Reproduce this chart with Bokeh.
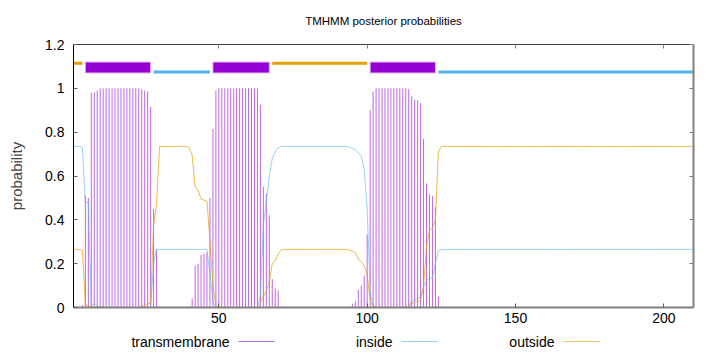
from bokeh.plotting import figure
from bokeh.models import Range1d, FixedTicker, LinearAxis, CustomJSTickFormatter
from bokeh.layouts import column
from bokeh.core.properties import value
from bokeh.embed import file_html
from bokeh.resources import INLINE

# ---------------- data ----------------
residue = list(range(1, 211))

transmembrane = [
    0, 0, 0, 0.01, 0.51, 0.50, 0.98, 0.982, 0.99, 1.0,
    1.0, 1.0, 1.0, 1.0, 1.0, 1.0, 1.0, 1.0, 1.0, 1.0,
    1.0, 1.0, 1.0, 0.995, 0.99, 0.985, 0.915, 0.45, 0.265, 0.005,
    0, 0, 0, 0, 0, 0, 0, 0, 0, 0.005,
    0.04, 0.19, 0.20, 0.24, 0.245, 0.25, 0.50, 0.815, 0.99, 1.0,
    1.0, 1.0, 1.0, 1.0, 1.0, 1.0, 1.0, 1.0, 1.0, 1.0,
    1.0, 1.0, 1.0, 0.925, 0.55, 0.52, 0.42, 0.13, 0.087, 0.078,
    0.005, 0, 0, 0, 0, 0, 0, 0, 0, 0,
    0, 0, 0, 0, 0, 0, 0, 0, 0, 0,
    0, 0, 0, 0.005, 0.018, 0.028, 0.08, 0.10, 0.145, 0.333,
    0.90, 0.986, 1.0, 1.0, 1.0, 1.0, 1.0, 1.0, 1.0, 1.0,
    1.0, 1.0, 1.0, 0.997, 0.963, 0.948, 0.945, 0.933, 0.769, 0.566,
    0.517, 0.508, 0.459, 0.049, 0, 0, 0, 0, 0, 0,
    0, 0, 0, 0, 0, 0, 0, 0, 0, 0,
    0, 0, 0, 0, 0, 0, 0, 0, 0, 0,
    0, 0, 0, 0, 0, 0, 0, 0, 0, 0,
    0, 0, 0, 0, 0, 0, 0, 0, 0, 0,
    0, 0, 0, 0, 0, 0, 0, 0, 0, 0,
    0, 0, 0, 0, 0, 0, 0, 0, 0, 0,
    0, 0, 0, 0, 0, 0, 0, 0, 0, 0,
    0, 0, 0, 0, 0, 0, 0, 0, 0, 0,
]

inside = [
    0.735, 0.735, 0.735, 0.73, 0.48, 0.48, 0.012, 0.015, 0.008, 0,
    0, 0, 0, 0, 0, 0, 0, 0, 0, 0,
    0, 0, 0, 0, 0, 0, 0, 0.2, 0.265, 0.265,
    0.265, 0.265, 0.265, 0.265, 0.265, 0.265, 0.265, 0.265, 0.265, 0.265,
    0.265, 0.265, 0.265, 0.265, 0.265, 0.265, 0.15, 0.03, 0, 0,
    0, 0, 0, 0, 0, 0, 0, 0, 0, 0,
    0, 0, 0, 0.05, 0.38, 0.48, 0.60, 0.68, 0.71, 0.728,
    0.735, 0.735, 0.735, 0.735, 0.735, 0.735, 0.735, 0.735, 0.735, 0.735,
    0.735, 0.735, 0.735, 0.735, 0.735, 0.735, 0.735, 0.735, 0.735, 0.735,
    0.735, 0.735, 0.735, 0.733, 0.725, 0.72, 0.705, 0.69, 0.63, 0.45,
    0.07, 0.01, 0, 0, 0, 0, 0, 0, 0, 0,
    0, 0, 0, 0.002, 0.03, 0.035, 0.04, 0.05, 0.09, 0.125,
    0.13, 0.137, 0.20, 0.26, 0.265, 0.265, 0.265, 0.265, 0.265, 0.265,
    0.265, 0.265, 0.265, 0.265, 0.265, 0.265, 0.265, 0.265, 0.265, 0.265,
    0.265, 0.265, 0.265, 0.265, 0.265, 0.265, 0.265, 0.265, 0.265, 0.265,
    0.265, 0.265, 0.265, 0.265, 0.265, 0.265, 0.265, 0.265, 0.265, 0.265,
    0.265, 0.265, 0.265, 0.265, 0.265, 0.265, 0.265, 0.265, 0.265, 0.265,
    0.265, 0.265, 0.265, 0.265, 0.265, 0.265, 0.265, 0.265, 0.265, 0.265,
    0.265, 0.265, 0.265, 0.265, 0.265, 0.265, 0.265, 0.265, 0.265, 0.265,
    0.265, 0.265, 0.265, 0.265, 0.265, 0.265, 0.265, 0.265, 0.265, 0.265,
    0.265, 0.265, 0.265, 0.265, 0.265, 0.265, 0.265, 0.265, 0.265, 0.265,
]

outside = [
    0.265, 0.265, 0.265, 0.26, 0.01, 0.01, 0.005, 0.003, 0, 0,
    0, 0, 0, 0, 0, 0, 0, 0, 0, 0,
    0, 0, 0, 0.005, 0.01, 0.015, 0.02, 0.38, 0.47, 0.735,
    0.735, 0.735, 0.735, 0.735, 0.735, 0.735, 0.735, 0.735, 0.735, 0.73,
    0.695, 0.55, 0.535, 0.495, 0.49, 0.485, 0.30, 0.10, 0.01, 0,
    0, 0, 0, 0, 0, 0, 0, 0, 0, 0,
    0, 0, 0, 0.02, 0.05, 0.075, 0.12, 0.20, 0.212, 0.245,
    0.263, 0.265, 0.265, 0.265, 0.265, 0.265, 0.265, 0.265, 0.265, 0.265,
    0.265, 0.265, 0.265, 0.265, 0.265, 0.265, 0.265, 0.265, 0.265, 0.265,
    0.265, 0.265, 0.265, 0.262, 0.257, 0.252, 0.22, 0.21, 0.19, 0.15,
    0.03, 0.004, 0, 0, 0, 0, 0, 0, 0, 0,
    0, 0, 0, 0.001, 0.02, 0.022, 0.03, 0.03, 0.10, 0.28,
    0.35, 0.365, 0.40, 0.71, 0.735, 0.735, 0.735, 0.735, 0.735, 0.735,
    0.735, 0.735, 0.735, 0.735, 0.735, 0.735, 0.735, 0.735, 0.735, 0.735,
    0.735, 0.735, 0.735, 0.735, 0.735, 0.735, 0.735, 0.735, 0.735, 0.735,
    0.735, 0.735, 0.735, 0.735, 0.735, 0.735, 0.735, 0.735, 0.735, 0.735,
    0.735, 0.735, 0.735, 0.735, 0.735, 0.735, 0.735, 0.735, 0.735, 0.735,
    0.735, 0.735, 0.735, 0.735, 0.735, 0.735, 0.735, 0.735, 0.735, 0.735,
    0.735, 0.735, 0.735, 0.735, 0.735, 0.735, 0.735, 0.735, 0.735, 0.735,
    0.735, 0.735, 0.735, 0.735, 0.735, 0.735, 0.735, 0.735, 0.735, 0.735,
    0.735, 0.735, 0.735, 0.735, 0.735, 0.735, 0.735, 0.735, 0.735, 0.735,
]

# predicted topology segments (residue start / end)
tm_start = [5, 48, 101]
tm_end = [27, 67, 123]
in_start = [28, 124]
in_end = [47, 210]
out_start = [1, 68]
out_end = [4, 100]

x_ticks = [50, 100, 150, 200]
y_ticks = [0, 0.2, 0.4, 0.6, 0.8, 1, 1.2]
y_tick_labels = ["0", "0.2", "0.4", "0.6", "0.8", "1", "1.2"]
legend_labels = ["transmembrane", "inside", "outside"]
title_text = "TMHMM posterior probabilities"

# ---------------- style ----------------
FONT = "Liberation Sans"
TM_COL = "#9400d3"
IN_COL = "#56b4e9"
OUT_COL = "#e69f00"
TOPO_OUT_Y = 1.115
TOPO_IN_Y = 1.075
TOPO_TM_BOTTOM = 1.07
TOPO_TM_TOP = 1.12


def strip(height):
    """A bare figure whose frame is aligned with the main frame (73..693 px), data units = pixels."""
    f = figure(width=720, height=height, x_range=Range1d(73, 693), y_range=Range1d(0, height),
               x_axis_type=None, y_axis_type=None, output_backend="svg", toolbar_location=None,
               min_border=0, min_border_left=0, min_border_right=0, min_border_top=0, min_border_bottom=0)
    f.outline_line_color = None
    f.xgrid.visible = False
    f.ygrid.visible = False
    return f


# ---------------- title strip ----------------
ttl = strip(30)
ttl.text(x=[383], y=[10], text=[title_text], text_align="center", text_baseline="middle",
         text_font=value(FONT), text_font_size="11.5px", text_color="#000000")

# ---------------- main plot ----------------
p = figure(width=720, height=300, x_range=Range1d(1, 210), y_range=Range1d(0, 1.2),
           output_backend="svg", toolbar_location=None,
           min_border_left=73, min_border_right=27, min_border_top=14, min_border_bottom=23)

p.xgrid.visible = False
p.ygrid.visible = False
p.outline_line_color = None

p.xaxis.ticker = FixedTicker(ticks=x_ticks)
p.yaxis.ticker = FixedTicker(ticks=y_ticks)
p.yaxis.major_label_overrides = dict(zip(y_ticks, y_tick_labels))

for ax in (p.xaxis[0], p.yaxis[0]):
    ax.major_tick_in = 4
    ax.major_tick_out = 0
    ax.minor_tick_in = 0
    ax.minor_tick_out = 0
    ax.major_label_text_font = FONT
    ax.major_label_text_font_size = "14px"
    ax.major_label_text_color = "#000000"
    ax.major_tick_line_color = "#606060"

p.yaxis.axis_line_color = "#000000"
p.yaxis.major_label_standoff = 9
p.yaxis.axis_label = "probability"
p.yaxis.axis_label_text_font = FONT
p.yaxis.axis_label_text_font_size = "15px"
p.yaxis.axis_label_text_font_style = "normal"
p.yaxis.axis_label_standoff = 17

p.xaxis.axis_line_color = "#808080"
p.xaxis.axis_line_width = 2
p.xaxis.major_label_standoff = 5

blank = CustomJSTickFormatter(code="return ''")
right_ax = LinearAxis(ticker=FixedTicker(ticks=y_ticks), formatter=blank,
                      major_tick_in=4, major_tick_out=0, minor_tick_in=0, minor_tick_out=0,
                      major_label_standoff=0, major_label_text_font_size="0px",
                      axis_line_color="#808080", axis_line_width=2, major_tick_line_color="#808080")
top_ax = LinearAxis(ticker=FixedTicker(ticks=x_ticks), formatter=blank,
                    major_tick_in=4, major_tick_out=0, minor_tick_in=0, minor_tick_out=0,
                    major_label_standoff=0, major_label_text_font_size="0px",
                    axis_line_color="#404040", axis_line_width=1, major_tick_line_color="#808080")
p.add_layout(right_ax, "right")
p.add_layout(top_ax, "above")

# impulses for transmembrane probability
p.segment(x0=residue, y0=[0] * len(residue), x1=residue, y1=transmembrane,
          line_color=TM_COL, line_alpha=0.6, line_width=1)
# inside / outside lines
p.line(residue, inside, line_color=IN_COL, line_alpha=0.6, line_width=1)
p.line(residue, outside, line_color=OUT_COL, line_alpha=0.7, line_width=1)

# predicted topology bar on top
p.segment(x0=out_start, y0=[TOPO_OUT_Y] * len(out_start), x1=out_end, y1=[TOPO_OUT_Y] * len(out_end),
          line_color=OUT_COL, line_width=3)
p.segment(x0=in_start, y0=[TOPO_IN_Y] * len(in_start), x1=in_end, y1=[TOPO_IN_Y] * len(in_end),
          line_color=IN_COL, line_width=3)
p.quad(left=tm_start, right=tm_end, bottom=[TOPO_TM_BOTTOM] * len(tm_start), top=[TOPO_TM_TOP] * len(tm_end),
       fill_color=TM_COL, line_color="#e0b4f2", line_width=1)

# ---------------- legend strip ----------------
leg = strip(22)
leg_text_x = [229, 392, 554]
leg_line_x0 = [238, 401, 563]
leg_line_x1 = [274, 437, 600]
leg_colors = [TM_COL, IN_COL, OUT_COL]
leg.text(x=leg_text_x, y=[11] * 3, text=legend_labels, text_align="right", text_baseline="middle",
         text_font=value(FONT), text_font_size="14px", text_color="#000000")
leg.segment(x0=leg_line_x0, y0=[11] * 3, x1=leg_line_x1, y1=[11] * 3,
            line_color=leg_colors, line_alpha=0.6, line_width=1)

layout = column(ttl, p, leg, spacing=0)
open("out.html", "w").write(file_html(layout, INLINE))
